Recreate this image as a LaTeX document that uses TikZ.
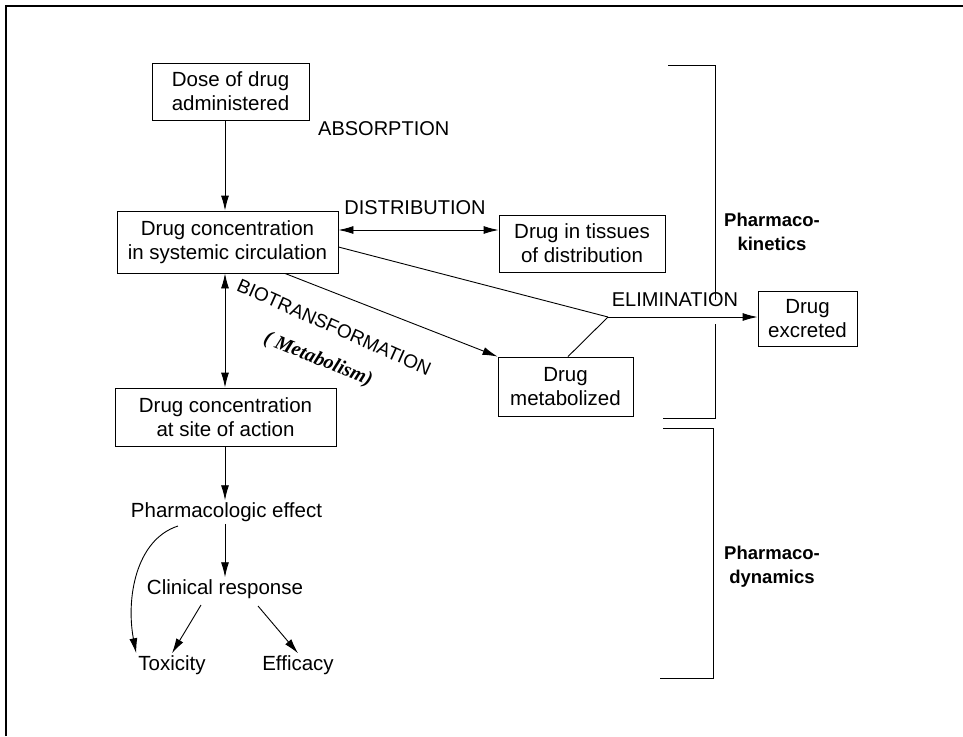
\documentclass[tikz,border=0pt]{standalone}
\usepackage{fontspec}
\setmainfont{Liberation Sans}
\newfontfamily\handfont{Liberation Serif}
\usetikzlibrary{arrows.meta}
\begin{document}
\begin{tikzpicture}[x=1pt,y=-1pt,
  every node/.style={font=\fontsize{20.5}{24}\selectfont, align=center, inner sep=2pt},
  box/.style={draw, line width=0.9pt, minimum width=#1, inner sep=0pt},
  arr/.style={line width=0.9pt, -{Latex[length=15pt,width=8pt]}},
  darr/.style={line width=0.9pt, {Latex[length=15pt,width=8pt]}-{Latex[length=15pt,width=8pt]}},
  ln/.style={line width=0.9pt},
  brk/.style={line width=0.9pt},
  lbl/.style={font=\fontsize{20}{24}\selectfont},
  side/.style={font=\fontsize{18.5}{24}\selectfont\bfseries}
]
\useasboundingbox (0,0) rectangle (963,736);
\draw[line width=2pt] (6,736) -- (6,6) -- (963,6);

\node[box=157pt, minimum height=57pt] (dose) at (230.5,91.5) {Dose of drug\\administered};
\node[box=221pt, minimum height=62pt] (circ) at (227.5,242) {Drug concentration\\in systemic circulation};
\node[box=166pt, minimum height=57pt] (tissue) at (582,243.5) {Drug in tissues\\of distribution};
\node[box=221pt, minimum height=58pt] (site) at (225.5,417) {Drug concentration\\at site of action};
\node[box=135pt, minimum height=59pt] (metab) at (565.5,386.5) {Drug\\metabolized};
\node[box=99pt, minimum height=55pt] (excr) at (807.5,319) {Drug\\excreted};

\node (pe) at (226.5,512) {Pharmacologic effect};
\node (cr) at (225,589) {Clinical response};
\node (tox) at (172,665) {Toxicity};
\node (eff) at (298,665) {Efficacy};

\node[lbl, anchor=west] (absorp) at (316,129) {ABSORPTION};
\node[lbl] (distr) at (415,208) {DISTRIBUTION};
\node[lbl] (elim) at (675,300) {ELIMINATION};
\node[font=\fontsize{19}{22}\selectfont, rotate=-24, anchor=north west, inner sep=0pt] (bio) at (241,278) {BIOTRANSFORMATION};
\node[font=\fontsize{20}{22}\selectfont\handfont\itshape\bfseries, rotate=-22, inner sep=0pt] (metabolism) at (318,360) {( Metabolism)};

\node[side] (kin) at (772,232) {Pharmaco-\\kinetics};
\node[side] (dyn) at (772,567) {Pharmaco-\\dynamics};

\coordinate (j) at (608,317);

\draw[arr] (dose.south -| 225,0) -- (circ.north -| 225,0);
\draw[darr] ([yshift=12pt]circ.east) -- ([yshift=13.5pt]tissue.west);
\draw[ln] ([yshift=-5pt]circ.east) -- (j);
\draw[ln] ([xshift=2.5pt]metab.north) -- (j);
\draw[arr] (j) -- (j -| excr.west);
\draw[arr] ([xshift=57.5pt]circ.south) -- (metab.north west);
\draw[darr] (circ.south -| 225,0) -- (site.north -| 225,0);
\draw[arr] (site.south -| 225,0) -- (pe.north -| 225,0);
\draw[arr] (pe.south -| 225,0) -- (cr.north -| 225,0);
\draw[arr] (178,526) .. controls (135,540) and (126,600) .. (tox.north west);
\draw[arr] (201,605) -- (tox.north);
\draw[arr] (258,606) -- (eff.north);

\draw[brk] (668,65) -- (715,65) -- (715,300);
\draw[brk] (715,324) -- (715,418) -- (663,418);
\draw[brk] (663,428) -- (713,428) -- (713,678) -- (660,678);
\end{tikzpicture}
\end{document}
